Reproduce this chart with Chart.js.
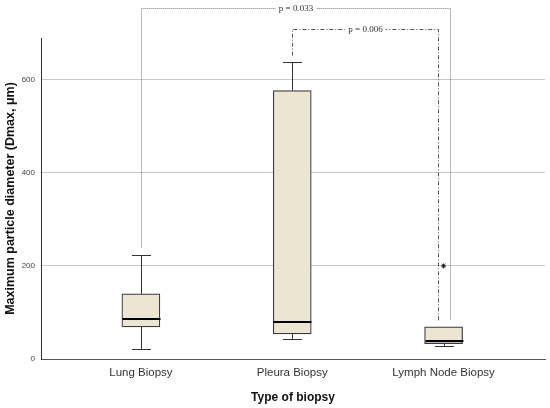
<!DOCTYPE html>
<html>
<head>
<meta charset="utf-8">
<script src="https://cdn.jsdelivr.net/npm/chart.js@4/dist/chart.umd.min.js"></script>
<style>
html,body{margin:0;padding:0;background:#fff;}
#wrap{width:550px;height:408px;position:relative;}
</style>
</head>
<body>
<div id="wrap"><canvas id="c"></canvas></div>
<script>
// ---- data ----
const categories = ['Lung Biopsy', 'Pleura Biopsy', 'Lymph Node Biopsy'];
const positions = [1, 2, 3];
const mins    = [22, 42, 28];
const q1s     = [69, 54, 33];
const medians = [87, 79, 38];
const q3s     = [140, 577, 69];
const maxs    = [224, 638, 69];
const outlierCat = [3];
const outlierVal = [200];
const yTicks = [0, 200, 400, 600];
// significance brackets
const bracketLeft   = [1, 2];
const bracketRight  = [3.04, 2.96];
const bracketTop    = [754, 709];
const bracketLeftEnd  = [240, 652];
const bracketRightEnd = [83, 83];
const bracketLabels = ['p = 0.033', 'p = 0.006'];

const boxData = positions.map((p, i) => ({x: p, y: [q1s[i], q3s[i]]}));
const outlierData = outlierCat.map((p, i) => ({x: p, y: outlierVal[i]}));

const boxPlugin = {
  id: 'boxExtras',
  afterDatasetsDraw(chart) {
    const ctx = chart.ctx, xs = chart.scales.x, ys = chart.scales.y;
    ctx.save();
    ctx.strokeStyle = '#333';
    ctx.lineWidth = 1;
    const line = (x1, y1, x2, y2) => { ctx.beginPath(); ctx.moveTo(x1, y1); ctx.lineTo(x2, y2); ctx.stroke(); };
    positions.forEach((p, i) => {
      const cx = Math.round(xs.getPixelForValue(p)) + 0.5;
      const halfCap = 9.5;
      if (maxs[i] > q3s[i]) {
        const yT = Math.round(ys.getPixelForValue(maxs[i])) + 0.5;
        line(cx, ys.getPixelForValue(q3s[i]), cx, yT);
        line(cx - halfCap, yT, cx + halfCap, yT);
      }
      const yB = Math.round(ys.getPixelForValue(mins[i])) + 0.5;
      line(cx, ys.getPixelForValue(q1s[i]), cx, yB);
      line(cx - halfCap, yB, cx + halfCap, yB);
      ctx.save();
      ctx.strokeStyle = '#000';
      ctx.lineWidth = 2;
      const ym = Math.round(ys.getPixelForValue(medians[i]));
      line(cx - 19, ym, cx + 19, ym);
      ctx.restore();
    });
    bracketLabels.forEach((lab, i) => {
      const xl = Math.round(xs.getPixelForValue(bracketLeft[i])) + 0.5;
      const xr = Math.round(xs.getPixelForValue(bracketRight[i])) + 0.5;
      const yt = Math.round(ys.getPixelForValue(bracketTop[i])) + 0.5;
      const yl = ys.getPixelForValue(bracketLeftEnd[i]);
      const yr = ys.getPixelForValue(bracketRightEnd[i]);
      ctx.save();
      if (i === 0) { ctx.setLineDash([1, 1]); ctx.strokeStyle = '#777'; }
      else { ctx.setLineDash([4, 2, 1, 2]); ctx.strokeStyle = '#555'; }
      ctx.lineWidth = 1;
      ctx.beginPath();
      ctx.moveTo(xl, yl); ctx.lineTo(xl, yt); ctx.lineTo(xr, yt); ctx.lineTo(xr, yr);
      ctx.stroke();
      ctx.setLineDash([]);
      ctx.font = '9px "Liberation Serif", "DejaVu Serif", serif';
      const tw = ctx.measureText(lab).width;
      const mx = (xl + xr) / 2;
      ctx.fillStyle = '#fff';
      ctx.fillRect(mx - tw / 2 - 3, yt - 5, tw + 6, 10);
      ctx.fillStyle = '#333';
      ctx.textAlign = 'center';
      ctx.textBaseline = 'middle';
      ctx.fillText(lab, mx, yt);
      ctx.restore();
    });
    ctx.restore();
  }
};

new Chart(document.getElementById('c'), {
  data: {
    datasets: [
      {
        type: 'bar',
        data: boxData,
        backgroundColor: '#ebe5d1',
        borderColor: '#3a3a3a',
        borderWidth: 1.2,
        borderSkipped: false,
        barThickness: 38,
        order: 2
      },
      {
        type: 'scatter',
        data: outlierData,
        pointStyle: 'star',
        radius: 2.5,
        borderColor: '#111',
        borderWidth: 1,
        order: 1
      }
    ]
  },
  options: {
    responsive: true,
    maintainAspectRatio: false,
    animation: false,
    devicePixelRatio: 1,
    plugins: { legend: { display: false }, tooltip: { enabled: false } },
    layout: { padding: { top: 38, right: 5, left: 0, bottom: 0 } },
    scales: {
      x: {
        type: 'linear',
        min: 0.34,
        max: 3.67,
        offset: false,
        afterBuildTicks(scale) { scale.ticks = positions.map(v => ({value: v})); },
        afterFit(scale) { scale.height = 49; },
        ticks: {
          callback: (v) => { const i = positions.indexOf(v); return i >= 0 ? categories[i] : ''; },
          font: { family: '"Liberation Sans Narrow", "Liberation Sans", Arial, sans-serif', size: 11.5 },
          color: '#333',
          padding: 7,
          maxRotation: 0,
          autoSkip: false
        },
        grid: { display: false, drawTicks: false },
        border: { display: true, color: '#555', width: 1 },
        title: {
          display: true,
          text: 'Type of biopsy',
          font: { family: '"Liberation Sans", Arial, sans-serif', size: 12, weight: 'bold' },
          color: '#111',
          padding: { top: 0, bottom: 3 }
        }
      },
      y: {
        type: 'linear',
        min: 0,
        max: 690,
        afterBuildTicks(scale) { scale.ticks = yTicks.map(v => ({value: v})); },
        afterFit(scale) { scale.width = 41; },
        ticks: {
          font: { family: '"Liberation Sans Narrow", "Liberation Sans", Arial, sans-serif', size: 8 },
          color: '#444',
          padding: 6
        },
        grid: {
          drawTicks: false,
          color: (c) => c.tick && c.tick.value === 0 ? 'rgba(0,0,0,0)' : '#c8c8c8',
          lineWidth: 1
        },
        border: { display: true, color: '#333', width: 1 },
        title: {
          display: true,
          text: 'Maximum particle diameter (Dmax, μm)',
          font: { family: '"Liberation Sans", Arial, sans-serif', size: 12.5, weight: 'bold' },
          color: '#111',
          padding: { top: 3, bottom: 3 }
        }
      }
    }
  },
  plugins: [boxPlugin]
});
</script>
</body>
</html>
